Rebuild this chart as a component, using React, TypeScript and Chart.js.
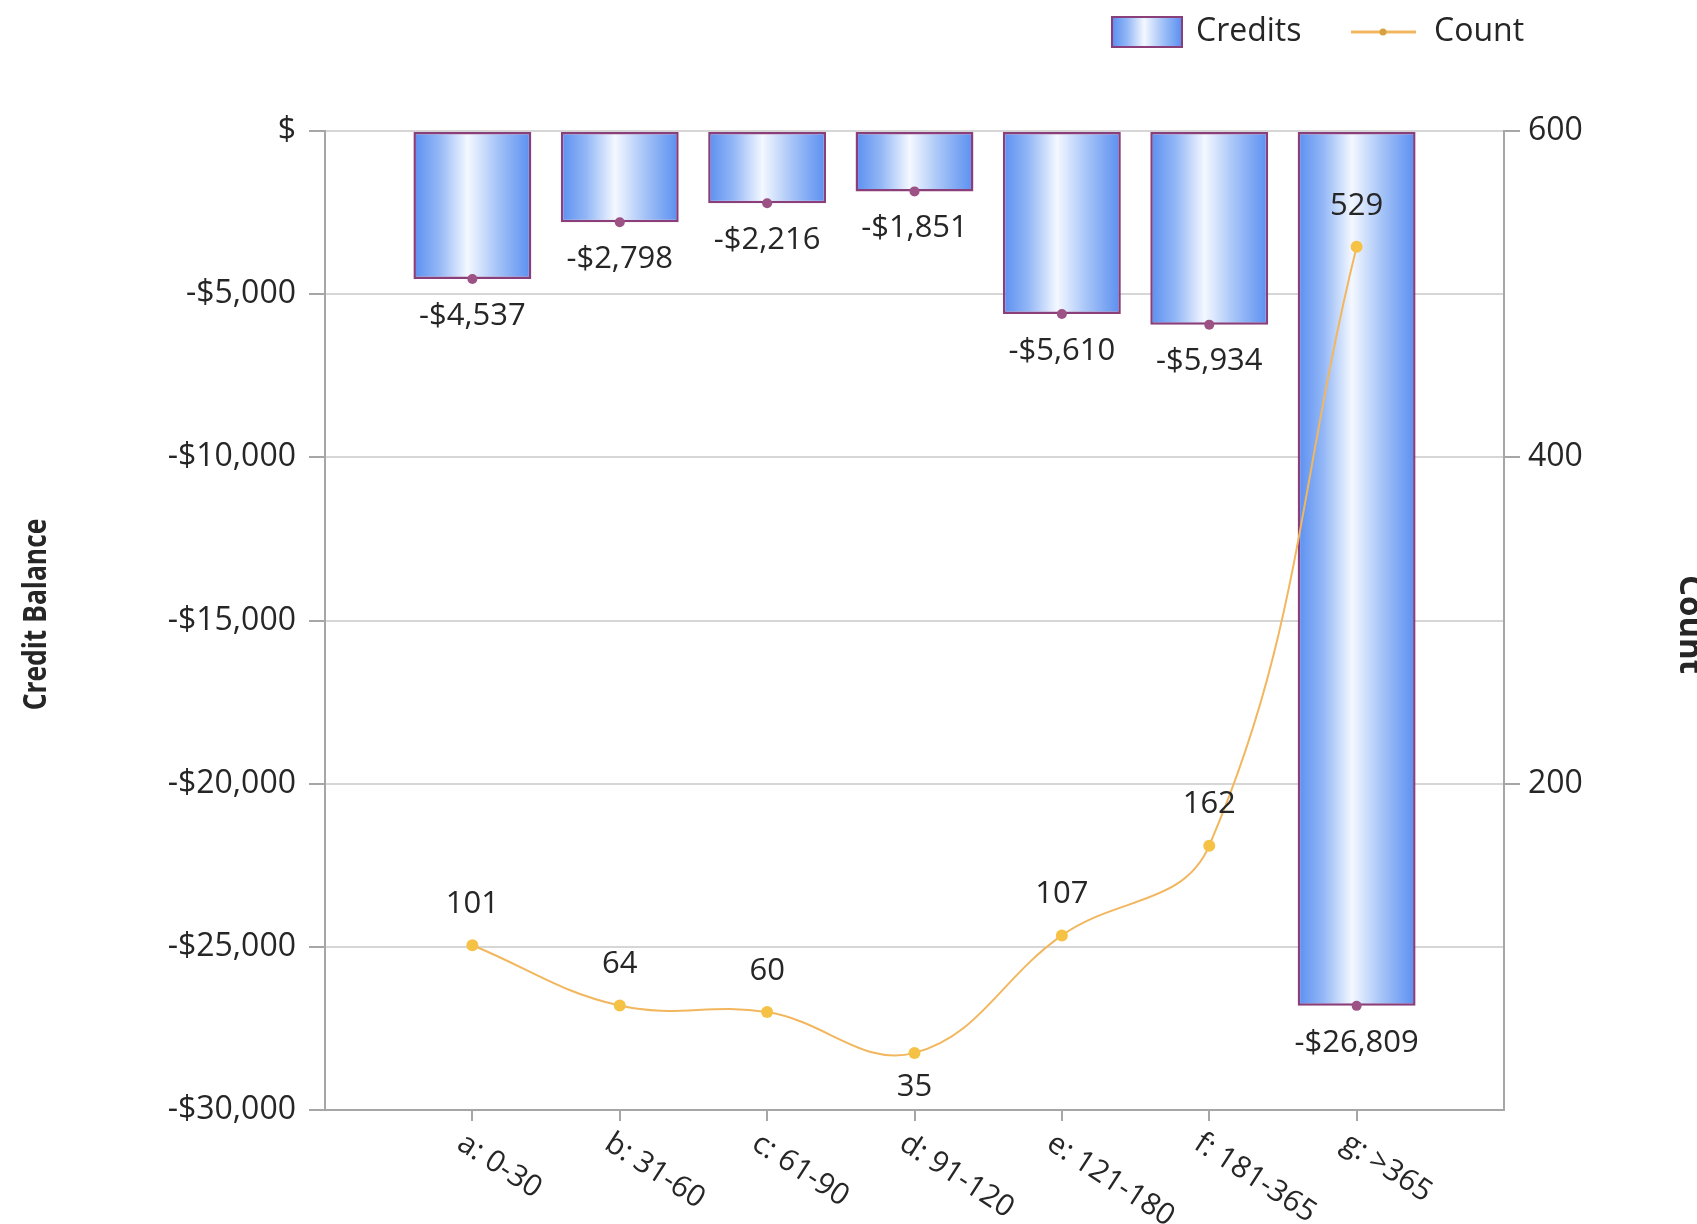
import React, { useEffect, useRef } from 'react';
import { Chart, registerables } from 'chart.js';

Chart.register(...registerables);

// ---------- data ----------
const categories = ['a: 0-30', 'b: 31-60', 'c: 61-90', 'd: 91-120', 'e: 121-180', 'f: 181-365', 'g: >365'];
const credits = [-4537, -2798, -2216, -1851, -5610, -5934, -26809];
const counts = [101, 64, 60, 35, 107, 162, 529];
const creditTicks = [0, -5000, -10000, -15000, -20000, -25000, -30000];
const countTicks = [200, 400, 600];
const seriesNames = ['Credits', 'Count'];
const axisTitles = ['Credit Balance', 'Count'];

// ---------- styles ----------
const FONT = '"Open Sans", "Liberation Sans", sans-serif';
const TEXT = '#262626';
const AXIS = '#a6a6a6';
const GRID = '#d6d6d6';
const BAR_BORDER = '#8a3f7a';
const LINE = '#f2b75e';
const POINT = '#f5c246';

const fmtMoney = (v: number) => (v === 0 ? '$' : (v < 0 ? '-' : '') + '$' + Math.abs(v).toLocaleString('en-US'));

function barGradient(ctx: CanvasRenderingContext2D, x0: number, x1: number) {
  const g = ctx.createLinearGradient(x0, 0, x1, 0);
  g.addColorStop(0, '#5a8ef0');
  g.addColorStop(0.22, '#94b8f6');
  g.addColorStop(0.46, '#f4f8ff');
  g.addColorStop(0.72, '#a3c2f7');
  g.addColorStop(1, '#5a8ef0');
  return g;
}

const overlay = {
  id: 'overlay',
  afterDatasetsDraw(chart: any) {
    const ctx = chart.ctx as CanvasRenderingContext2D;
    const barMeta = chart.getDatasetMeta(0);
    ctx.save();
    barMeta.data.forEach((el: any) => {
      ctx.beginPath();
      ctx.arc(el.x, el.y, 5, 0, Math.PI * 2);
      ctx.fillStyle = '#9c5285';
      ctx.fill();
    });
    ctx.restore();
  },
  afterDraw(chart: any) {
    const ctx = chart.ctx as CanvasRenderingContext2D;
    const area = chart.chartArea;
    const xs = chart.scales.x;
    ctx.save();
    ctx.fillStyle = TEXT;

    // bar value labels
    ctx.font = `31px ${FONT}`;
    ctx.textAlign = 'center';
    ctx.textBaseline = 'middle';
    chart.getDatasetMeta(0).data.forEach((el: any, i: number) => {
      ctx.fillText(fmtMoney(credits[i]), el.x, el.y + 37);
    });
    // count labels
    chart.getDatasetMeta(1).data.forEach((el: any, i: number) => {
      const localMin = i > 0 && i < counts.length - 1 && counts[i] < counts[i - 1] && counts[i] < counts[i + 1];
      ctx.fillText(String(counts[i]), el.x, localMin ? el.y + 34 : el.y - 41);
    });

    // rotated category labels
    ctx.font = `30px ${FONT}`;
    ctx.textAlign = 'left';
    ctx.textBaseline = 'top';
    categories.forEach((c, i) => {
      const x = xs.getPixelForValue(i + 1);
      ctx.save();
      ctx.translate(x - 4, area.bottom + 18);
      ctx.rotate((33 * Math.PI) / 180);
      ctx.fillText(c, 0, 0);
      ctx.restore();
    });

    // axis titles
    ctx.font = `bold 33px ${FONT}`;
    ctx.textAlign = 'center';
    ctx.textBaseline = 'middle';
    ctx.save();
    ctx.translate(37, (area.top + area.bottom) / 2 - 6);
    ctx.rotate(-Math.PI / 2);
    ctx.scale(0.8, 1);
    ctx.fillText(axisTitles[0], 0, 0);
    ctx.restore();

    ctx.save();
    ctx.textBaseline = 'alphabetic';
    ctx.translate(1680, (area.top + area.bottom) / 2 + 4);
    ctx.rotate(Math.PI / 2);
    ctx.fillText(axisTitles[1], 0, 0);
    ctx.restore();

    // legend
    const ly = 32;
    ctx.fillStyle = barGradient(ctx, 1112, 1182);
    ctx.fillRect(1112, 17, 70, 30);
    ctx.strokeStyle = BAR_BORDER;
    ctx.lineWidth = 2;
    ctx.strokeRect(1112, 17, 70, 30);
    ctx.fillStyle = TEXT;
    ctx.font = `32px ${FONT}`;
    ctx.textAlign = 'left';
    ctx.textBaseline = 'middle';
    ctx.fillText(seriesNames[0], 1196, ly);
    ctx.strokeStyle = LINE;
    ctx.lineWidth = 3;
    ctx.beginPath();
    ctx.moveTo(1351, ly);
    ctx.lineTo(1416, ly);
    ctx.stroke();
    ctx.beginPath();
    ctx.arc(1383, ly, 3.5, 0, Math.PI * 2);
    ctx.fillStyle = '#d9a040';
    ctx.fill();
    ctx.fillStyle = TEXT;
    ctx.fillText(seriesNames[1], 1434, ly);
    ctx.restore();
  },
};

export default function App() {
  const ref = useRef<HTMLCanvasElement | null>(null);

  useEffect(() => {
    let chart: Chart | null = null;
    let cancelled = false;
    const make = () => {
      if (cancelled || !ref.current) return;
      chart = new Chart(ref.current, {
        type: 'bar',
        data: {
          datasets: [
            {
              type: 'bar',
              label: seriesNames[0],
              data: credits.map((v, i) => ({ x: i + 1, y: v })),
              yAxisID: 'y',
              order: 2,
              backgroundColor: (c: any) => {
                const xs = c.chart.scales?.x;
                if (!xs || c.type !== 'data') return '#6f9cf2';
                const cx = xs.getPixelForValue(c.dataIndex + 1);
                const half = ((xs.getPixelForValue(1) - xs.getPixelForValue(0)) * 0.8) / 2;
                if (!isFinite(cx) || !isFinite(half) || half <= 0) return '#6f9cf2';
                return barGradient(c.chart.ctx, cx - half, cx + half);
              },
              borderColor: BAR_BORDER,
              borderWidth: 2.5,
              borderSkipped: false,
              categoryPercentage: 1,
              barPercentage: 0.8,
            } as any,
            {
              type: 'line',
              label: seriesNames[1],
              data: counts.map((v, i) => ({ x: i + 1, y: v })),
              yAxisID: 'y1',
              order: 1,
              borderColor: LINE,
              borderWidth: 2,
              tension: 0.4,
              pointRadius: 6,
              pointBackgroundColor: POINT,
              pointBorderColor: POINT,
              pointBorderWidth: 0,
              fill: false,
            } as any,
          ],
        },
        options: {
          animation: false,
          responsive: false,
          events: [],
          layout: { padding: { top: 131, left: 0, right: 0, bottom: 0 } },
          plugins: { legend: { display: false }, tooltip: { enabled: false } },
          scales: {
            x: {
              type: 'linear',
              min: 0,
              max: 8,
              offset: false,
              afterBuildTicks: (s: any) => {
                s.ticks = categories.map((_, i) => ({ value: i + 1 }));
              },
              afterFit: (s: any) => {
                s.height = 114;
              },
              ticks: { display: false },
              grid: {
                display: true,
                offset: false,
                drawOnChartArea: false,
                drawTicks: true,
                tickLength: 11,
                color: AXIS,
                lineWidth: 2,
              },
              border: { display: true, color: AXIS, width: 2 },
            },
            y: {
              type: 'linear',
              position: 'left',
              min: -30000,
              max: 0,
              afterBuildTicks: (s: any) => {
                s.ticks = creditTicks.map((v) => ({ value: v }));
              },
              afterFit: (s: any) => {
                s.width = 325;
              },
              ticks: {
                callback: (v: any) => fmtMoney(Number(v)),
                font: { family: FONT, size: 32 },
                color: TEXT,
                padding: 13,
              },
              grid: { color: GRID, lineWidth: 2, tickColor: AXIS, tickLength: 16, drawTicks: true },
              border: { display: true, color: AXIS, width: 2 },
            },
            y1: {
              type: 'linear',
              position: 'right',
              min: 0,
              max: 600,
              afterBuildTicks: (s: any) => {
                s.ticks = countTicks.map((v) => ({ value: v }));
              },
              afterFit: (s: any) => {
                s.width = 193;
              },
              ticks: {
                callback: (v: any) => String(v),
                font: { family: FONT, size: 32 },
                color: TEXT,
                padding: 8,
              },
              grid: { drawOnChartArea: false, color: AXIS, lineWidth: 2, tickLength: 16, drawTicks: true },
              border: { display: true, color: AXIS, width: 2 },
            },
          },
        } as any,
        plugins: [overlay as any],
      });
    };
    const fonts = (document as any).fonts;
    if (fonts && fonts.load) {
      Promise.all([fonts.load(`32px ${FONT}`), fonts.load(`bold 33px ${FONT}`)]).then(make, make);
    } else {
      make();
    }
    return () => {
      cancelled = true;
      if (chart) chart.destroy();
    };
  }, []);

  return (
    <div style={{ position: 'fixed', left: 0, top: 0, width: 1697, height: 1224, background: '#ffffff' }}>
      <canvas ref={ref} width={1697} height={1224} style={{ display: 'block' }} />
    </div>
  );
}
